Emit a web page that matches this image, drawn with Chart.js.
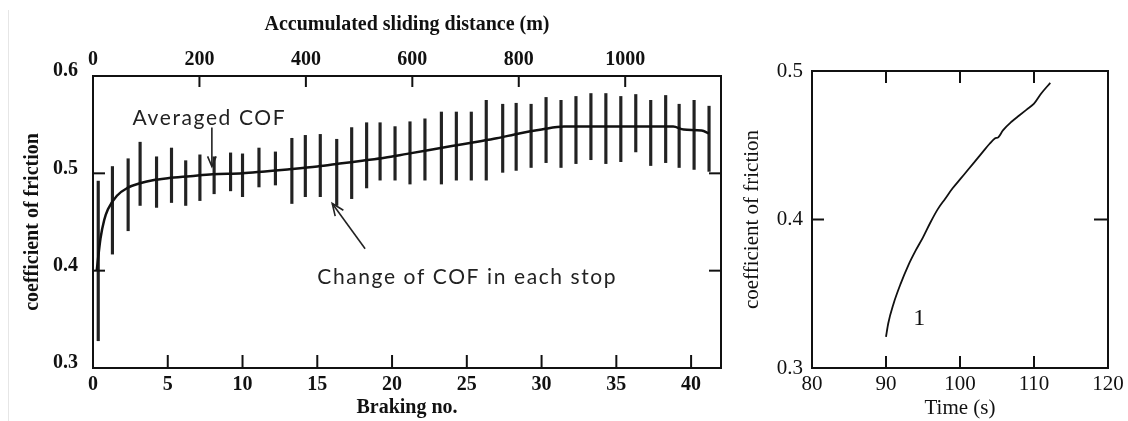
<!DOCTYPE html>
<html>
<head>
<meta charset="utf-8">
<script src="https://cdn.jsdelivr.net/npm/chart.js@4/dist/chart.umd.min.js"></script>
<style>
  body { margin: 0; background: #fff; width: 1128px; height: 421px; position: relative; overflow: hidden; }
  #c1 { position: absolute; left: 0; top: 0; }
  #c2 { position: absolute; left: 740px; top: 0; }
  .edge { position: absolute; left: 8px; top: 10px; width: 1px; height: 411px; background: #e6e6e6; }
</style>
</head>
<body>
<div class="edge"></div>
<canvas id="c1" width="740" height="421"></canvas>
<canvas id="c2" width="388" height="421"></canvas>
<script>
// left chart: COF range in each braking stop + averaged COF
var stopPos  = [0.35, 1.3, 2.35, 3.15, 4.25, 5.25, 6.2, 7.15, 8.1, 9.2, 10.0, 11.1, 12.2, 13.3, 14.2, 15.2, 16.3, 17.3, 18.3, 19.2, 20.2,
                21.2, 22.2, 23.3, 24.3, 25.3, 26.3, 27.4, 28.3, 29.3, 30.3, 31.3, 32.3, 33.3, 34.3, 35.3, 36.3, 37.3, 38.3, 39.2, 40.2, 41.2];
var stopHigh = [0.492, 0.507, 0.515, 0.532, 0.517, 0.526, 0.513, 0.519, 0.517, 0.521, 0.520, 0.526, 0.522, 0.536, 0.539, 0.540, 0.535,
                0.547, 0.552, 0.552, 0.548, 0.553, 0.556, 0.563, 0.563, 0.563, 0.575, 0.571, 0.572, 0.571, 0.578, 0.575, 0.579, 0.582,
                0.582, 0.579, 0.581, 0.575, 0.580, 0.571, 0.575, 0.569];
var stopLow  = [0.328, 0.417, 0.441, 0.467, 0.465, 0.470, 0.467, 0.472, 0.479, 0.482, 0.476, 0.486, 0.488, 0.469, 0.476, 0.476, 0.467,
                0.474, 0.485, 0.493, 0.493, 0.489, 0.493, 0.489, 0.493, 0.493, 0.493, 0.501, 0.503, 0.506, 0.511, 0.506, 0.510, 0.514,
                0.510, 0.512, 0.522, 0.508, 0.511, 0.506, 0.504, 0.502];
var avgX = [0.25, 0.5, 0.75, 1.0, 1.6, 2.3, 3.2, 4.0, 5.0, 6.5, 8.0, 10.0, 11.5, 13.0, 15.0, 16.5, 18.0, 19.5, 21.0, 22.5, 24.0,
            25.5, 27.0, 28.5, 30.0, 31.5, 33.0, 35.0, 37.0, 38.8, 39.5, 40.7, 41.2];
var avgY = [0.400, 0.433, 0.452, 0.463, 0.477, 0.485, 0.490, 0.493, 0.495, 0.497, 0.499, 0.500, 0.502, 0.504, 0.507, 0.510, 0.513,
            0.516, 0.520, 0.524, 0.528, 0.532, 0.536, 0.541, 0.545, 0.548, 0.548, 0.548, 0.548, 0.548, 0.545, 0.544, 0.541];
var distTicks = [0, 200, 400, 600, 800, 1000];

// right chart: COF vs time
var timeX = [90.0, 90.3, 91.0, 92.0, 93.0, 94.0, 95.0, 96.0, 97.0, 98.0, 99.0, 100.0, 101.0, 102.0, 103.0, 104.0, 104.7,
             105.2, 105.8, 107.0, 108.0, 109.0, 110.0, 111.0, 112.2];
var timeY = [0.321, 0.330, 0.343, 0.357, 0.369, 0.379, 0.388, 0.398, 0.407, 0.414, 0.421, 0.427, 0.433, 0.439, 0.445, 0.451, 0.4545,
             0.4555, 0.460, 0.466, 0.470, 0.474, 0.478, 0.485, 0.492];

var serifB = { family: 'Liberation Serif', weight: 'bold', size: 20 };
var serif = { family: 'Liberation Serif', size: 21 };

// frame around the plot and ticks pointing inwards
var frameTicks = {
  id: 'frameTicks',
  afterDatasetsDraw: function (chart, args, opts) {
    var ctx = chart.ctx, a = chart.chartArea;
    ctx.save();
    ctx.strokeStyle = '#111';
    ctx.lineWidth = opts.width || 2;
    ctx.strokeRect(a.left, a.top, a.right - a.left, a.bottom - a.top);
    opts.marks.forEach(function (m) {
      var s = chart.scales[m.scale];
      s.ticks.forEach(function (t) {
        if (t.value <= s.min + 1e-9 || t.value >= s.max - 1e-9) return;
        var p = s.getPixelForValue(t.value);
        ctx.beginPath();
        if (m.side === 'bottom') { ctx.moveTo(p, a.bottom); ctx.lineTo(p, a.bottom - m.len); }
        if (m.side === 'top') { ctx.moveTo(p, a.top); ctx.lineTo(p, a.top + m.len); }
        if (m.side === 'left') { ctx.moveTo(a.left, p); ctx.lineTo(a.left + m.len, p); }
        if (m.side === 'right') { ctx.moveTo(a.right, p); ctx.lineTo(a.right - m.len, p); }
        ctx.stroke();
      });
    });
    ctx.restore();
  }
};

function arrowHead(ctx, x0, y0, x1, y1, len) {
  var ang = Math.atan2(y1 - y0, x1 - x0);
  ctx.beginPath();
  ctx.moveTo(x1 - len * Math.cos(ang - 0.4), y1 - len * Math.sin(ang - 0.4));
  ctx.lineTo(x1, y1);
  ctx.lineTo(x1 - len * Math.cos(ang + 0.4), y1 - len * Math.sin(ang + 0.4));
  ctx.stroke();
}

// text notes with arrows, placed in data units
var notes = {
  id: 'notes',
  afterDatasetsDraw: function (chart) {
    var ctx = chart.ctx, x = chart.scales.x, y = chart.scales.y;
    ctx.save();
    ctx.fillStyle = '#222';
    ctx.strokeStyle = '#222';
    ctx.lineWidth = 1.6;
    ctx.font = '21px Lato';
    ctx.letterSpacing = '1.6px';
    ctx.textBaseline = 'middle';
    ctx.fillText('Averaged COF', x.getPixelForValue(2.65), y.getPixelForValue(0.5565));
    ctx.fillText('Change of COF in each stop', x.getPixelForValue(15.0), y.getPixelForValue(0.393));
    var ax = x.getPixelForValue(7.95), ay0 = y.getPixelForValue(0.547), ay1 = y.getPixelForValue(0.507);
    ctx.beginPath(); ctx.moveTo(ax, ay0); ctx.lineTo(ax, ay1); ctx.stroke();
    arrowHead(ctx, ax, ay0, ax, ay1, 11);
    var bx0 = x.getPixelForValue(18.2), by0 = y.getPixelForValue(0.4225);
    var bx1 = x.getPixelForValue(16.0), by1 = y.getPixelForValue(0.469);
    ctx.beginPath(); ctx.moveTo(bx0, by0); ctx.lineTo(bx1, by1); ctx.stroke();
    arrowHead(ctx, bx0, by0, bx1, by1, 13);
    ctx.restore();
  }
};

new Chart(document.getElementById('c1'), {
  type: 'bar',
  data: {
    datasets: [{
      type: 'line',
      data: avgX.map(function (v, i) { return { x: v, y: avgY[i] }; }),
      borderColor: '#111',
      borderWidth: 2.5,
      pointRadius: 0,
      cubicInterpolationMode: 'monotone'
    }, {
      type: 'bar',
      data: stopPos.map(function (v, i) { return { x: v, y: [stopLow[i], stopHigh[i]] }; }),
      backgroundColor: '#222',
      barThickness: 2.5
    }]
  },
  options: {
    responsive: false,
    devicePixelRatio: 1,
    animation: false,
    layout: { padding: { right: 19 } },
    plugins: {
      legend: { display: false },
      tooltip: { enabled: false },
      frameTicks: {
        marks: [{ scale: 'x', side: 'bottom', len: 13 }, { scale: 'x2', side: 'top', len: 11 },
                { scale: 'y', side: 'left', len: 12 }, { scale: 'y', side: 'right', len: 12 }]
      }
    },
    scales: {
      x: {
        type: 'linear', position: 'bottom', min: 0, max: 42, offset: false,
        grid: { display: false, drawTicks: false, offset: false }, border: { display: false },
        ticks: { stepSize: 5, includeBounds: false, padding: 5, color: '#111', font: serifB },
        title: { display: true, text: 'Braking no.', color: '#111', font: serifB, padding: { top: 0, bottom: 1 } },
        afterFit: function (s) { s.height = 53; }
      },
      x2: {
        type: 'linear', position: 'top', min: 0, max: 1180, offset: false,
        grid: { display: false, drawTicks: false, offset: false }, border: { display: false },
        ticks: { padding: 4, color: '#111', font: serifB, callback: function (v) { return String(v); } },
        afterBuildTicks: function (s) { s.ticks = distTicks.map(function (v) { return { value: v }; }); },
        title: { display: true, text: 'Accumulated sliding distance (m)', color: '#111', font: serifB, padding: { top: 13, bottom: 0 } },
        afterFit: function (s) { s.height = 76; }
      },
      y: {
        min: 0.3, max: 0.6,
        grid: { display: false, drawTicks: false }, border: { display: false },
        ticks: { stepSize: 0.1, padding: 15, labelOffset: -5, color: '#111', font: serifB },
        title: { display: true, text: 'coefficient of friction', color: '#111', font: serifB, padding: { top: 21, bottom: 0 } },
        afterFit: function (s) { s.width = 93; }
      }
    }
  },
  plugins: [frameTicks, notes]
});

var curveLabel = {
  id: 'curveLabel',
  afterDatasetsDraw: function (chart) {
    var ctx = chart.ctx;
    ctx.save();
    ctx.fillStyle = '#111';
    ctx.font = '24px "Liberation Serif"';
    ctx.textAlign = 'center';
    ctx.textBaseline = 'middle';
    ctx.fillText('1', chart.scales.x.getPixelForValue(94.5), chart.scales.y.getPixelForValue(0.333));
    ctx.restore();
  }
};

new Chart(document.getElementById('c2'), {
  type: 'line',
  data: {
    datasets: [{
      data: timeX.map(function (v, i) { return { x: v, y: timeY[i] }; }),
      borderColor: '#111',
      borderWidth: 1.8,
      pointRadius: 0,
      cubicInterpolationMode: 'monotone'
    }]
  },
  options: {
    responsive: false,
    devicePixelRatio: 1,
    animation: false,
    layout: { padding: { top: 71, right: 20 } },
    plugins: {
      legend: { display: false },
      tooltip: { enabled: false },
      frameTicks: {
        width: 2,
        marks: [{ scale: 'x', side: 'bottom', len: 12 }, { scale: 'x', side: 'top', len: 12 },
                { scale: 'y', side: 'left', len: 12 }, { scale: 'y', side: 'right', len: 14 }]
      }
    },
    scales: {
      x: {
        type: 'linear', min: 80, max: 120,
        grid: { display: false, drawTicks: false }, border: { display: false },
        ticks: { stepSize: 10, padding: 4, color: '#111', font: serif },
        title: { display: true, text: 'Time (s)', color: '#111', font: serif, padding: { top: 0, bottom: 0 } },
        afterFit: function (s) { s.height = 53; }
      },
      y: {
        min: 0.3, max: 0.5,
        grid: { display: false, drawTicks: false }, border: { display: false },
        ticks: { stepSize: 0.1, padding: 9, color: '#111', font: serif },
        title: { display: true, text: 'coefficient of friction', color: '#111', font: serif, padding: { top: 0, bottom: 0 } },
        afterFit: function (s) { s.width = 72; }
      }
    }
  },
  plugins: [frameTicks, curveLabel]
});
</script>
</body>
</html>
